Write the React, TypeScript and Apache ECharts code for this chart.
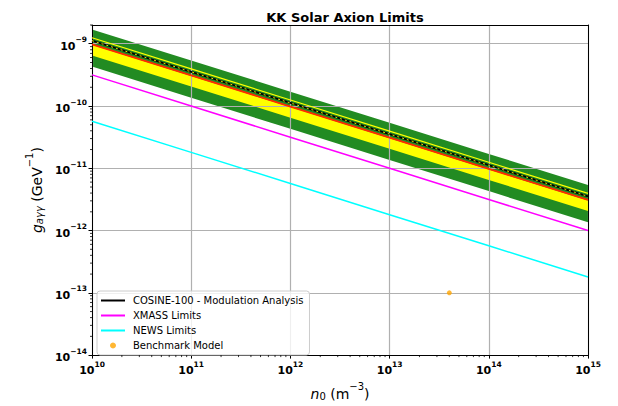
import React, { useEffect, useRef } from "react";
import * as echarts from "echarts";

// Number density of KK axions (m^-3) at which each limit is sampled
const densities = [1e10, 1e11, 1e12, 1e13, 1e14, 1e15];

// Expected-sensitivity bands (GeV^-1)
const band2SigmaHigh = [1.7e-9, 5.4e-10, 1.7e-10, 5.4e-11, 1.7e-11, 5.4e-12];
const band2SigmaLow = [4.3e-10, 1.36e-10, 4.3e-11, 1.36e-11, 4.3e-12, 1.36e-12];
const band1SigmaHigh = [9.6e-10, 3.04e-10, 9.6e-11, 3.04e-11, 9.6e-12, 3.04e-12];
const band1SigmaLow = [6.5e-10, 2.06e-10, 6.5e-11, 2.06e-11, 6.5e-12, 2.06e-12];
const expectedMedian = [9.8e-10, 3.1e-10, 9.8e-11, 3.1e-11, 9.8e-12, 3.1e-12];
const upperEdgeLine = [1.25e-9, 3.95e-10, 1.25e-10, 3.95e-11, 1.25e-11, 3.95e-12];

// Observed limits (GeV^-1)
const cosineLimit = [1.12e-9, 3.54e-10, 1.12e-10, 3.54e-11, 1.12e-11, 3.54e-12];
const xmassLimit = [3.16e-10, 1e-10, 3.16e-11, 1e-11, 3.16e-12, 1e-12];
const newsLimit = [5.7e-11, 1.8e-11, 5.7e-12, 1.8e-12, 5.7e-13, 1.8e-13];

// Benchmark model: [n0, g]
const benchmarkPoint = [4e13, 1e-13];

// Axis decades carrying minor ticks
const xMinorDecades = [10, 11, 12, 13, 14];
const yMinorDecades = [-14, -13, -12, -11, -10, -9];
const minorMantissas = [2, 3, 4, 5, 6, 7, 8, 9];

const X_MIN = 1e10;
const X_MAX = 1e15;
const Y_MIN = 1e-14;
const Y_MAX = 2e-9;

const FONT = "DejaVu Sans";

const pairs = (ys: number[]) => densities.map((n, i) => [n, ys[i]]);

function bandSeries(low: number[], high: number[], color: string, z: number) {
  return {
    type: "custom",
    silent: true,
    z,
    clip: true,
    data: [[densities[0], low[0]]],
    renderItem: (_p: any, api: any) => {
      const top = densities.map((n, i) => api.coord([n, high[i]]));
      const bottom = densities.map((n, i) => api.coord([n, low[i]])).reverse();
      return {
        type: "polygon",
        shape: { points: top.concat(bottom) },
        style: { fill: color },
      };
    },
  };
}

function lineSeries(name: string, ys: number[], color: string, width: number, z: number, dash?: number[]) {
  return {
    type: "line",
    name,
    data: pairs(ys),
    symbol: "none",
    silent: true,
    z,
    lineStyle: { color, width, type: dash ? dash : "solid" },
    itemStyle: { color },
  };
}

const minorValues = (decades: number[], lo: number, hi: number) => {
  const out: number[] = [];
  decades.forEach((d) => {
    minorMantissas.forEach((m) => {
      const v = m * Math.pow(10, d);
      if (v > lo * 1.0001 && v <= hi * 1.0001) out.push(v);
    });
  });
  return out;
};

const tickLabel = (v: number) => {
  const e = Math.log10(v);
  const r = Math.round(e);
  if (Math.abs(e - r) > 1e-6) return "";
  const exp = r < 0 ? "\u2212" + String(-r) : String(r);
  return `{b|10}{s|${exp}}`;
};

const tickRich = {
  b: { fontFamily: FONT, fontSize: 11, fontWeight: "bold", color: "#000", verticalAlign: "bottom", lineHeight: 16 },
  s: { fontFamily: FONT, fontSize: 7.5, fontWeight: "bold", color: "#000", verticalAlign: "top", lineHeight: 16 },
};

const hiddenMarker = { opacity: 0 };

export default function App() {
  const ref = useRef<HTMLDivElement>(null);

  useEffect(() => {
    if (!ref.current) return;
    const chart = echarts.init(ref.current, undefined, { renderer: "svg" });

    const xMinor = minorValues(xMinorDecades, X_MIN, X_MAX);
    const yMinor = minorValues(yMinorDecades, Y_MIN, Y_MAX);

    const option: any = {
      animation: false,
      backgroundColor: "#ffffff",
      title: {
        text: "KK Solar Axion Limits",
        left: 340,
        top: 6,
        textAlign: "center",
        textStyle: { fontFamily: FONT, fontSize: 13, fontWeight: "bold", color: "#000" },
      },
      grid: { left: 92, right: 30, top: 25, bottom: 44 },
      legend: {
        orient: "vertical",
        left: 97,
        top: 291,
        itemWidth: 24,
        itemHeight: 6,
        itemGap: 4,
        padding: [4, 6, 4, 3],
        backgroundColor: "rgba(255,255,255,0.8)",
        borderColor: "#cccccc",
        borderWidth: 1,
        borderRadius: 3,
        textStyle: { fontFamily: FONT, fontSize: 10, color: "#000", lineHeight: 11, padding: [0, 0, 0, 3] },
        data: [
          { name: "COSINE-100 - Modulation Analysis", itemStyle: hiddenMarker },
          { name: "XMASS Limits", itemStyle: hiddenMarker },
          { name: "NEWS Limits", itemStyle: hiddenMarker },
          { name: "Benchmark Model", icon: "circle" },
        ],
      },
      xAxis: [
        {
          type: "log",
          logBase: 10,
          min: X_MIN,
          max: X_MAX,
          interval: 1,
          z: 1.5,
          name: "{i|n}{sub|0}{t| (m}{sup|\u22123}{t|)}",
          nameLocation: "middle",
          nameGap: 24,
          nameTextStyle: {
            rich: {
              i: { fontFamily: FONT, fontSize: 14, fontStyle: "italic", color: "#000", verticalAlign: "bottom", lineHeight: 20 },
              sub: { fontFamily: FONT, fontSize: 10, color: "#000", verticalAlign: "bottom", lineHeight: 16 },
              t: { fontFamily: FONT, fontSize: 14, color: "#000", verticalAlign: "bottom", lineHeight: 20 },
              sup: { fontFamily: FONT, fontSize: 10, color: "#000", verticalAlign: "top", lineHeight: 20 },
            },
          },
          axisLine: { show: true, onZero: false, lineStyle: { color: "#000", width: 1 } },
          axisTick: { show: true, inside: false, length: 3.5, lineStyle: { color: "#000", width: 1 } },
          axisLabel: { margin: 5, formatter: tickLabel, rich: tickRich },
          splitLine: { show: true, lineStyle: { color: "#b0b0b0", width: 1.2 } },
        },
        {
          type: "log",
          logBase: 10,
          min: X_MIN,
          max: X_MAX,
          position: "top",
          z: 1.5,
          axisLine: { show: true, onZero: false, lineStyle: { color: "#000", width: 1 } },
          axisTick: { show: false },
          axisLabel: { show: false },
          splitLine: { show: false },
        },
      ],
      yAxis: [
        {
          type: "log",
          logBase: 10,
          min: Y_MIN,
          max: Y_MAX,
          interval: 1,
          z: 1.5,
          name: "{i|g}{sub|a\u03b3\u03b3}{t| (GeV}{sup|\u22121}{t|)}",
          nameLocation: "middle",
          nameRotate: 90,
          nameGap: 46,
          nameTextStyle: {
            rich: {
              i: { fontFamily: FONT, fontSize: 14, fontStyle: "italic", color: "#000", verticalAlign: "bottom", lineHeight: 20 },
              sub: { fontFamily: FONT, fontSize: 10, fontStyle: "italic", color: "#000", verticalAlign: "bottom", lineHeight: 16 },
              t: { fontFamily: FONT, fontSize: 14, color: "#000", verticalAlign: "bottom", lineHeight: 20 },
              sup: { fontFamily: FONT, fontSize: 10, color: "#000", verticalAlign: "top", lineHeight: 20 },
            },
          },
          axisLine: { show: true, onZero: false, lineStyle: { color: "#000", width: 1 } },
          axisTick: { show: true, inside: false, length: 3.5, lineStyle: { color: "#000", width: 1 } },
          axisLabel: { margin: 5, formatter: tickLabel, rich: tickRich, showMaxLabel: false },
          splitLine: { show: true, lineStyle: { color: "#b0b0b0", width: 1.2 } },
        },
        {
          type: "log",
          logBase: 10,
          min: Y_MIN,
          max: Y_MAX,
          position: "right",
          z: 1.5,
          axisLine: { show: true, onZero: false, lineStyle: { color: "#000", width: 1 } },
          axisTick: { show: false },
          axisLabel: { show: false },
          splitLine: { show: false },
        },
      ],
      series: [
        bandSeries(band2SigmaLow, band2SigmaHigh, "#228b22", 1),
        bandSeries(band1SigmaLow, band1SigmaHigh, "#ffff00", 1),
        lineSeries("Expected median", expectedMedian, "#ff2a00", 1.8, 2),
        lineSeries("Upper edge", upperEdgeLine, "#ffff00", 1.2, 2),
        lineSeries("COSINE-100 - Modulation Analysis", cosineLimit, "#000000", 1.8, 3),
        lineSeries("COSINE-100 overlay", cosineLimit, "#ffff00", 0.9, 4, [2, 3]),
        lineSeries("XMASS Limits", xmassLimit, "#ff00ff", 1.5, 3),
        lineSeries("NEWS Limits", newsLimit, "#00ffff", 1.5, 3),
        {
          type: "scatter",
          name: "Benchmark Model",
          data: [benchmarkPoint],
          symbol: "circle",
          symbolSize: 5,
          silent: true,
          z: 4,
          itemStyle: { color: "#ffa500" },
        },
        {
          type: "custom",
          silent: true,
          z: 5,
          clip: false,
          data: xMinor.map((v) => [v, Y_MIN]),
          renderItem: (_p: any, api: any) => {
            const pt = api.coord([api.value(0), api.value(1)]);
            return {
              type: "line",
              shape: { x1: pt[0], y1: pt[1], x2: pt[0], y2: pt[1] + 2 },
              style: { stroke: "#000", lineWidth: 0.8 },
            };
          },
        },
        {
          type: "custom",
          silent: true,
          z: 5,
          clip: false,
          data: yMinor.map((v) => [X_MIN, v]),
          renderItem: (_p: any, api: any) => {
            const pt = api.coord([api.value(0), api.value(1)]);
            return {
              type: "line",
              shape: { x1: pt[0] - 2, y1: pt[1], x2: pt[0], y2: pt[1] },
              style: { stroke: "#000", lineWidth: 0.8 },
            };
          },
        },
      ],
    };

    chart.setOption(option);
    return () => chart.dispose();
  }, []);

  return (
    <div
      ref={ref}
      style={{ position: "fixed", left: 0, top: 0, width: 618, height: 406, background: "#fff" }}
    />
  );
}
